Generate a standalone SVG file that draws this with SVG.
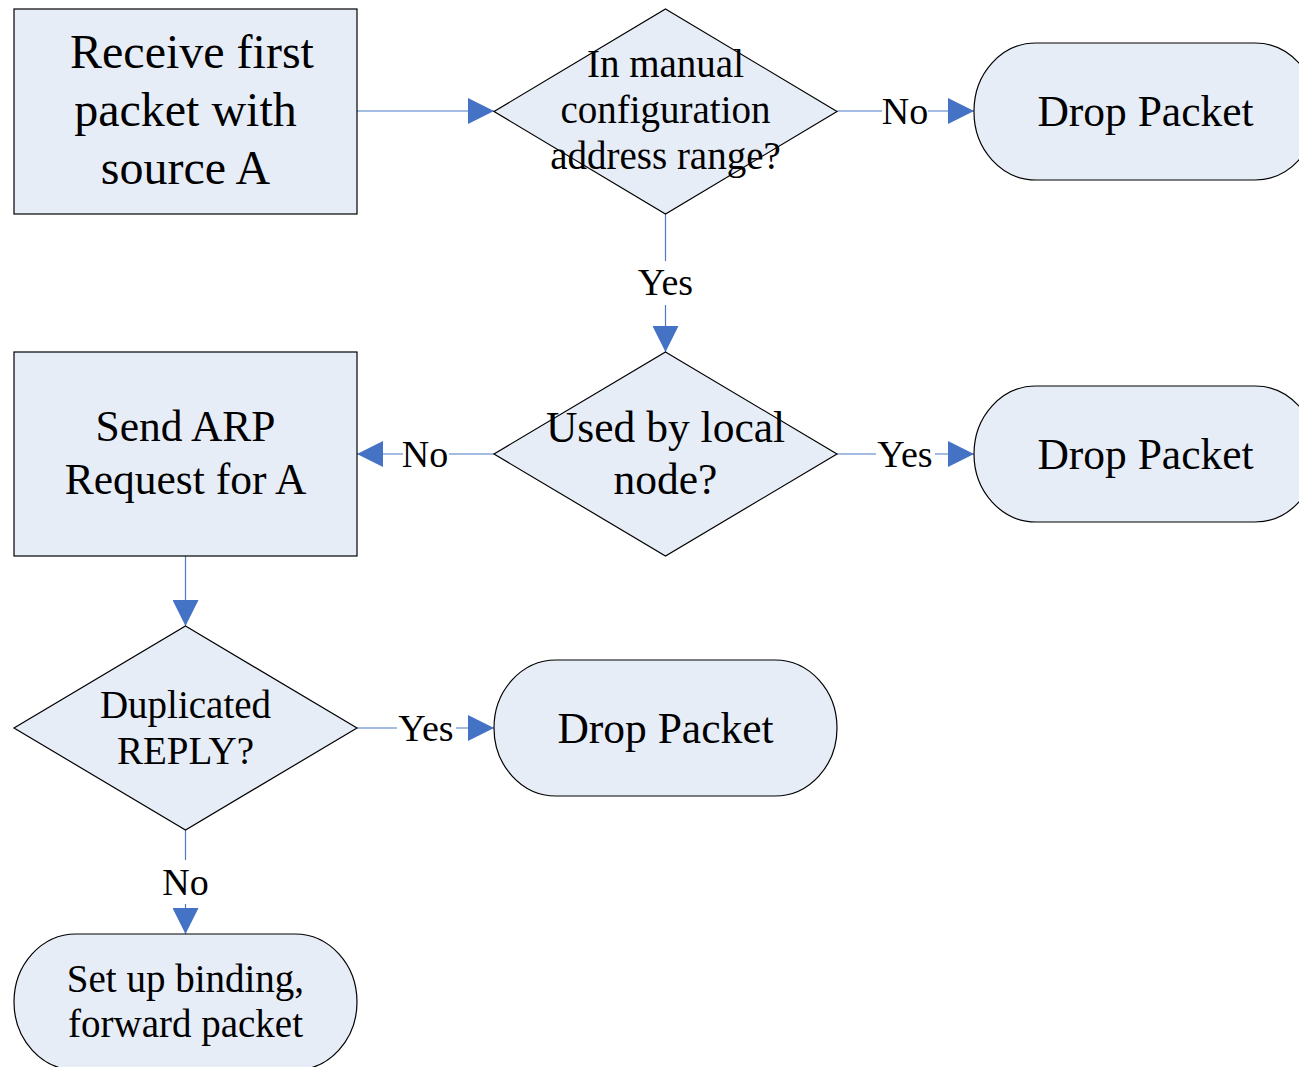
<svg xmlns="http://www.w3.org/2000/svg" width="1299" height="1067" viewBox="0 0 1299 1067">
<style>
.box{fill:#E7EDF7;stroke:#000;stroke-width:1.2}
.t{font-family:"Liberation Serif","Times New Roman",serif;fill:#000;text-anchor:middle}
.big{font-size:48px}
.md{font-size:43.5px}
.sm{font-size:39px}
.lbl{font-family:"Liberation Serif","Times New Roman",serif;font-size:38px;fill:#000;text-anchor:middle}
.c{fill:none;stroke:#4A7BC4;stroke-width:1.2}
.bg{fill:#fff}
</style>
<defs>
<marker id="ah" markerUnits="userSpaceOnUse" markerWidth="26" markerHeight="26" viewBox="0 0 26 26" refX="26" refY="13" orient="auto">
<path d="M0,0 L26,13 L0,26 Z" fill="#4472C4"/>
</marker>
</defs>
<rect width="1299" height="1067" fill="#fff"/>
<g id="connectors">
<line class="c" x1="357" y1="111" x2="494" y2="111" marker-end="url(#ah)"/>
<line class="c" x1="837" y1="111" x2="974" y2="111" marker-end="url(#ah)"/>
<line class="c" x1="665.5" y1="214" x2="665.5" y2="352" marker-end="url(#ah)"/>
<line class="c" x1="494" y1="454" x2="357" y2="454" marker-end="url(#ah)"/>
<line class="c" x1="837" y1="454" x2="974" y2="454" marker-end="url(#ah)"/>
<line class="c" x1="185.5" y1="556" x2="185.5" y2="626" marker-end="url(#ah)"/>
<line class="c" x1="357" y1="728" x2="494" y2="728" marker-end="url(#ah)"/>
<line class="c" x1="185.5" y1="830" x2="185.5" y2="934" marker-end="url(#ah)"/>
<rect class="bg" x="882" y="96" width="46" height="30"/>
<text class="lbl" x="905" y="124">No</text>
<rect class="bg" x="636" y="261" width="60" height="44"/>
<text class="lbl" x="665.5" y="295">Yes</text>
<rect class="bg" x="403" y="439" width="46" height="30"/>
<text class="lbl" x="425" y="467">No</text>
<rect class="bg" x="876" y="439" width="59" height="30"/>
<text class="lbl" x="905" y="467">Yes</text>
<rect class="bg" x="397" y="713" width="59" height="30"/>
<text class="lbl" x="426" y="741">Yes</text>
<rect class="bg" x="162" y="860" width="47" height="44"/>
<text class="lbl" x="185.5" y="895">No</text>
</g>
<g id="n-receive">
<rect class="box" x="14" y="9" width="343" height="205"/>
<text class="t big" x="192" y="68">Receive first</text>
<text class="t big" x="185.5" y="126">packet with</text>
<text class="t big" x="185.5" y="184">source A</text>
</g>
<g id="n-manual">
<polygon class="box" points="665.5,9 837,111.5 665.5,214 494,111.5"/>
<text class="t sm" x="665.5" y="77">In manual</text>
<text class="t sm" x="665.5" y="123">configuration</text>
<text class="t sm" x="665.5" y="169">address range?</text>
</g>
<g id="n-drop1">
<rect class="box" x="974" y="43" width="343" height="137" rx="62" ry="68"/>
<text class="t md" x="1145.5" y="126">Drop Packet</text>
</g>
<g id="n-used">
<polygon class="box" points="665.5,352 837,454 665.5,556 494,454"/>
<text class="t md" x="665.5" y="442">Used by local</text>
<text class="t md" x="665.5" y="494">node?</text>
</g>
<g id="n-arp">
<rect class="box" x="14" y="352" width="343" height="204"/>
<text class="t md" x="185.5" y="441">Send ARP</text>
<text class="t md" x="185.5" y="494">Request for A</text>
</g>
<g id="n-drop2">
<rect class="box" x="974" y="386" width="343" height="136" rx="62" ry="68"/>
<text class="t md" x="1145.5" y="469">Drop Packet</text>
</g>
<g id="n-dup">
<polygon class="box" points="185.5,626 357,728 185.5,830 14,728"/>
<text class="t sm" x="185.5" y="718">Duplicated</text>
<text class="t sm" x="185.5" y="764">REPLY?</text>
</g>
<g id="n-drop3">
<rect class="box" x="494" y="660" width="343" height="136" rx="62" ry="68"/>
<text class="t md" x="665.5" y="743">Drop Packet</text>
</g>
<g id="n-bind">
<rect class="box" x="14" y="934" width="343" height="136" rx="62" ry="68"/>
<text class="t sm" x="185.5" y="992">Set up binding,</text>
<text class="t sm" x="185.5" y="1037">forward packet</text>
</g>
</svg>
